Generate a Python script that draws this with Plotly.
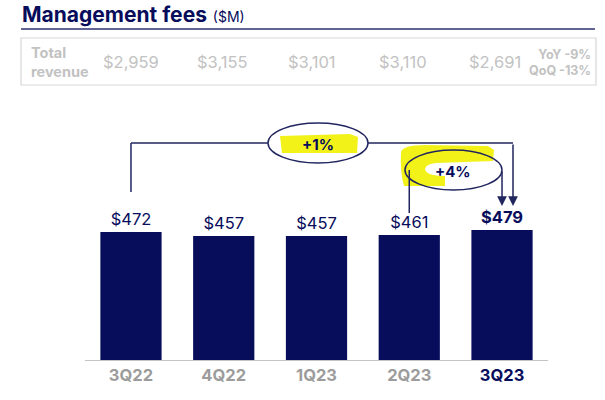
import plotly.graph_objects as go

# ---- data ----
quarters = ["3Q22", "4Q22", "1Q23", "2Q23", "3Q23"]
mgmt_fees = [472, 457, 457, 461, 479]
total_revenue = ["$2,959", "$3,155", "$3,101", "$3,110", "$2,691"]
yoy_label = "YoY -9%"
qoq_label = "QoQ -13%"
change_yoy = "+1%"
change_qoq = "+4%"

NAVY = "#070C5B"
GREY_TICK = "#9c9c9c"
GREY_HDR = "#c2c2c2"
YELLOW = "#F2F218"
FONT = "Inter"

W, H = 605, 400
# plot area in pixels
X0, X1 = 84.6, 548.4
Y_BASE, Y_TOP = 360.0, 100.0
PX_PER_UNIT = 0.2712
YMAX = (Y_BASE - Y_TOP) / PX_PER_UNIT
STEP = (X1 - X0) / len(quarters)


def px(x):  # pixel -> paper x
    return x / W


def py(y):  # pixel -> paper y
    return 1 - y / H


def xd(x):  # pixel -> category index coordinate
    return (x - X0) / STEP - 0.5


def yd(y):  # pixel -> data y
    return (Y_BASE - y) / PX_PER_UNIT


labels = [f"${v}" for v in mgmt_fees]
labels[-1] = f"<b>{labels[-1]}</b>"
ticktext = [f"<span style='color:{GREY_TICK}'>{q}</span>" for q in quarters[:-1]]
ticktext.append(f"<span style='color:{NAVY}'>{quarters[-1]}</span>")

fig = go.Figure(
    go.Bar(
        x=list(range(len(quarters))),
        y=mgmt_fees,
        marker=dict(color=NAVY, line=dict(width=0)),
        text=labels,
        textposition="outside",
        textfont=dict(color=NAVY, size=16.5, family=FONT),
        cliponaxis=False,
        hoverinfo="skip",
    )
)

shapes = []
annotations = []

# header
shapes.append(dict(type="line", xref="paper", yref="paper", x0=px(21), x1=px(595),
                   y0=py(29), y1=py(29), line=dict(color="#2d2f70", width=1.5)))
shapes.append(dict(type="rect", xref="paper", yref="paper", x0=px(21), x1=px(596),
                   y0=py(38), y1=py(85), line=dict(color="#d8d8d8", width=1.2)))
annotations.append(dict(
    xref="paper", yref="paper", x=px(20), y=py(15), xanchor="left", yanchor="middle",
    text=f"<b>Management fees</b> <span style='font-size:14px'>($M)</span>",
    showarrow=False, font=dict(family=FONT, size=21, color=NAVY)))
annotations.append(dict(
    xref="paper", yref="paper", x=px(29), y=py(62), xanchor="left", yanchor="middle",
    text="<b>Total<br>revenue</b>", align="left", showarrow=False,
    font=dict(family=FONT, size=14.5, color=GREY_HDR)))
hdr_x = [130.7, 222, 312, 403, 495]
for xc, t in zip(hdr_x, total_revenue):
    annotations.append(dict(
        xref="paper", yref="paper", x=px(xc), y=py(62), xanchor="center", yanchor="middle",
        text=t, showarrow=False, font=dict(family=FONT, size=16.5, color=GREY_HDR)))
annotations.append(dict(
    xref="paper", yref="paper", x=px(560), y=py(62), xanchor="center", yanchor="middle",
    text=f"<b>{yoy_label}<br>{qoq_label}</b>", align="right", showarrow=False,
    font=dict(family=FONT, size=12.5, color=GREY_HDR)))

# yellow highlights
shapes.append(dict(type="path", xref="x", yref="y", layer="above",
                   path=(f"M {xd(280)},{yd(136)} L {xd(350)},{yd(134)} L {xd(358)},{yd(137)} "
                         f"L {xd(357)},{yd(153)} L {xd(282)},{yd(153)} Z"),
                   fillcolor=YELLOW, line=dict(width=0)))
shapes.append(dict(type="path", xref="x", yref="y", layer="above",
                   path=(f"M {xd(401)},{yd(152)} Q {xd(403)},{yd(145)} {xd(425)},{yd(145)} "
                         f"L {xd(488)},{yd(146)} L {xd(494)},{yd(150)} L {xd(493)},{yd(161)} "
                         f"L {xd(436)},{yd(163)} Q {xd(426)},{yd(164)} {xd(425)},{yd(169)} "
                         f"Q {xd(426)},{yd(176)} {xd(445)},{yd(176)} L {xd(445)},{yd(186)} "
                         f"L {xd(404)},{yd(186)} Q {xd(400)},{yd(172)} {xd(401)},{yd(152)} Z"),
                   fillcolor=YELLOW, line=dict(width=0)))

LINE = dict(color="#22265f", width=1.5)
# +1% bracket
shapes.append(dict(type="line", xref="x", yref="y", x0=0, x1=0, y0=yd(192), y1=yd(143), line=LINE))
shapes.append(dict(type="line", xref="x", yref="y", x0=0, x1=xd(268), y0=yd(143), y1=yd(143), line=LINE))
shapes.append(dict(type="circle", xref="x", yref="y", x0=xd(268), x1=xd(368),
                   y0=yd(123), y1=yd(163), line=LINE))
shapes.append(dict(type="line", xref="x", yref="y", x0=xd(368), x1=xd(513), y0=yd(143), y1=yd(143), line=LINE))
annotations.append(dict(xref="x", yref="y", axref="x", ayref="y", x=xd(513), y=yd(206),
                        ax=xd(513), ay=yd(143), text="", showarrow=True, arrowhead=2,
                        arrowsize=1.3, arrowwidth=1.5, arrowcolor="#22265f", standoff=0))
annotations.append(dict(xref="x", yref="y", x=xd(318), y=yd(144), text=f"<b>{change_yoy}</b>",
                        showarrow=False, font=dict(family=FONT, size=15, color=NAVY)))

# +4% bracket
shapes.append(dict(type="line", xref="x", yref="y", x0=3, x1=3, y0=yd(213), y1=yd(170), line=LINE))
shapes.append(dict(type="circle", xref="x", yref="y", x0=xd(405), x1=xd(502),
                   y0=yd(150), y1=yd(190), line=LINE))
annotations.append(dict(xref="x", yref="y", axref="x", ayref="y", x=4, y=yd(206),
                        ax=4, ay=yd(170), text="", showarrow=True, arrowhead=2,
                        arrowsize=1.3, arrowwidth=1.5, arrowcolor="#22265f", standoff=0))
annotations.append(dict(xref="x", yref="y", x=xd(453), y=yd(171), text=f"<b>{change_qoq}</b>",
                        showarrow=False, font=dict(family=FONT, size=15, color=NAVY)))

fig.update_layout(
    width=W, height=H, autosize=False,
    margin=dict(l=0, r=0, t=0, b=0),
    paper_bgcolor="white", plot_bgcolor="white",
    showlegend=False, bargap=0.34,
    font=dict(family=FONT),
    shapes=shapes, annotations=annotations,
    xaxis=dict(domain=[px(X0), px(X1)], range=[-0.5, len(quarters) - 0.5],
               tickmode="array", tickvals=list(range(len(quarters))), ticktext=ticktext,
               tickfont=dict(family=FONT, size=16.5, weight="bold"),
               showline=True, linecolor="#c4c4c4", linewidth=1.2,
               showgrid=False, zeroline=False, ticks=""),
    yaxis=dict(domain=[py(Y_BASE), py(Y_TOP)], range=[0, YMAX], visible=False,
               showgrid=False, zeroline=False),
)

fig.write_html("out.html",
               config={"displayModeBar": False, "staticPlot": True},
               post_script="document.body.style.margin='0';document.body.style.overflow='hidden';")
